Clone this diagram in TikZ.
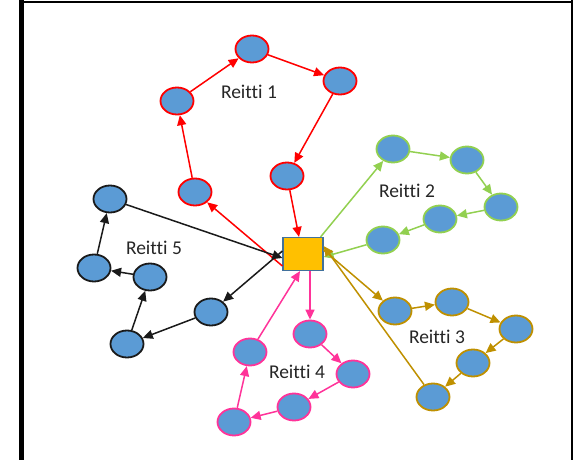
\documentclass[tikz,border=0pt]{standalone}
\usepackage{fontspec}
\setmainfont[Ligatures=NoCommon]{Carlito}
\usetikzlibrary{shapes.geometric,arrows.meta}
\definecolor{nodeblue}{HTML}{5B9BD5}
\definecolor{rred}{HTML}{FF0000}
\definecolor{rgreen}{HTML}{92D050}
\definecolor{rgold}{HTML}{BF9000}
\definecolor{rpink}{HTML}{FF3399}
\definecolor{rblack}{HTML}{1A1A1A}
\definecolor{sqfill}{HTML}{FFC000}
\definecolor{sqborder}{HTML}{41719C}
\begin{document}
\begin{tikzpicture}[x=1pt,y=-1pt,
  stopnode/.style={ellipse,draw=#1,fill=nodeblue,line width=1.8pt,minimum width=33pt,minimum height=27pt,inner sep=0pt},
  conn/.style={draw=#1,line width=1.5pt,-{Triangle[length=10pt,width=9pt,fill=#1]}},
  lbl/.style={font=\fontsize{19.5}{22}\selectfont,text=black!85,inner sep=0pt}]
\useasboundingbox (0,0) rectangle (574,460);
% frame
\fill[black] (19,0) rectangle (24,460);
\fill[black] (19,1) rectangle (573,3);
\fill[black] (571,0) rectangle (573,460);
% depot
\node[draw=sqborder,fill=sqfill,line width=1.2pt,minimum width=40pt,minimum height=33pt,inner sep=0pt] (sq) at (303,254) {};
% route 1
\node[stopnode=rred] (a1) at (195,192) {};
\node[stopnode=rred] (a2) at (177,101) {};
\node[stopnode=rred] (a3) at (252,49) {};
\node[stopnode=rred] (a4) at (340,81) {};
\node[stopnode=rred] (a5) at (287,176) {};
\node[lbl] (l1) at (249,92) {Reitti 1};
% route 2
\node[stopnode=rgreen] (b1) at (393,149) {};
\node[stopnode=rgreen] (b2) at (467,160) {};
\node[stopnode=rgreen] (b3) at (501,207) {};
\node[stopnode=rgreen] (b4) at (440,219) {};
\node[stopnode=rgreen] (b5) at (383,240) {};
\node[lbl] (l2) at (407,191) {Reitti 2};
% route 3
\node[stopnode=rgold] (c1) at (395,311) {};
\node[stopnode=rgold] (c2) at (452,302) {};
\node[stopnode=rgold] (c3) at (516,329) {};
\node[stopnode=rgold] (c4) at (473,363) {};
\node[stopnode=rgold] (c5) at (433,397) {};
\node[lbl] (l3) at (437,337) {Reitti 3};
% route 4
\node[stopnode=rpink] (d1) at (310,334) {};
\node[stopnode=rpink] (d2) at (353,374) {};
\node[stopnode=rpink] (d3) at (294,407) {};
\node[stopnode=rpink] (d4) at (234,422) {};
\node[stopnode=rpink] (d5) at (250,352) {};
\node[lbl] (l4) at (297,372) {Reitti 4};
% route 5
\node[stopnode=rblack] (e1) at (211,312) {};
\node[stopnode=rblack] (e2) at (127,344) {};
\node[stopnode=rblack] (e3) at (150,277) {};
\node[stopnode=rblack] (e4) at (94,268) {};
\node[stopnode=rblack] (e5) at (110,199) {};
\node[lbl] (l5) at (154,248) {Reitti 5};
% route 1 connectors
\draw[conn=rred] ([yshift=-12pt]sq.west) -- (a1);
\draw[conn=rred] (a1) -- (a2);
\draw[conn=rred] (a2) -- (a3);
\draw[conn=rred] (a3) -- (a4);
\draw[conn=rred] (a4) -- (a5);
\draw[conn=rred] (a5) -- ([xshift=-4pt]sq.north);
% route 2 connectors
\draw[conn=rgreen] ([xshift=-3pt]sq.north east) -- (b1);
\draw[conn=rgreen] (b1) -- (b2);
\draw[conn=rgreen] (b2) -- (b3);
\draw[conn=rgreen] (b3) -- (b4);
\draw[conn=rgreen] (b4) -- (b5);
\draw[conn=rgreen] (b5) -- ([yshift=-3pt]sq.east);
% route 3 connectors
\draw[conn=rgold] ([yshift=4pt]sq.east) -- (c1);
\draw[conn=rgold] (c1) -- (c2);
\draw[conn=rgold] (c2) -- (c3);
\draw[conn=rgold] (c3) -- (c4);
\draw[conn=rgold] (c4) -- (c5);
\draw[conn=rgold] (c5) -- ([yshift=8pt]sq.east);
% route 4 connectors
\draw[conn=rpink] ([xshift=7pt]sq.south) -- (d1);
\draw[conn=rpink] (d1) -- (d2);
\draw[conn=rpink] (d2) -- (d3);
\draw[conn=rpink] (d3) -- (d4);
\draw[conn=rpink] (d4) -- (d5);
\draw[conn=rpink] (d5) -- ([xshift=-3pt]sq.south);
% route 5 connectors
\draw[conn=rblack] ([yshift=3pt]sq.west) -- (e1);
\draw[conn=rblack] (e1) -- (e2);
\draw[conn=rblack] (e2) -- (e3);
\draw[conn=rblack] (e3) -- (e4);
\draw[conn=rblack] (e4) -- (e5);
\draw[conn=rblack] (e5) -- ([yshift=-4pt]sq.west);
\end{tikzpicture}
\end{document}
